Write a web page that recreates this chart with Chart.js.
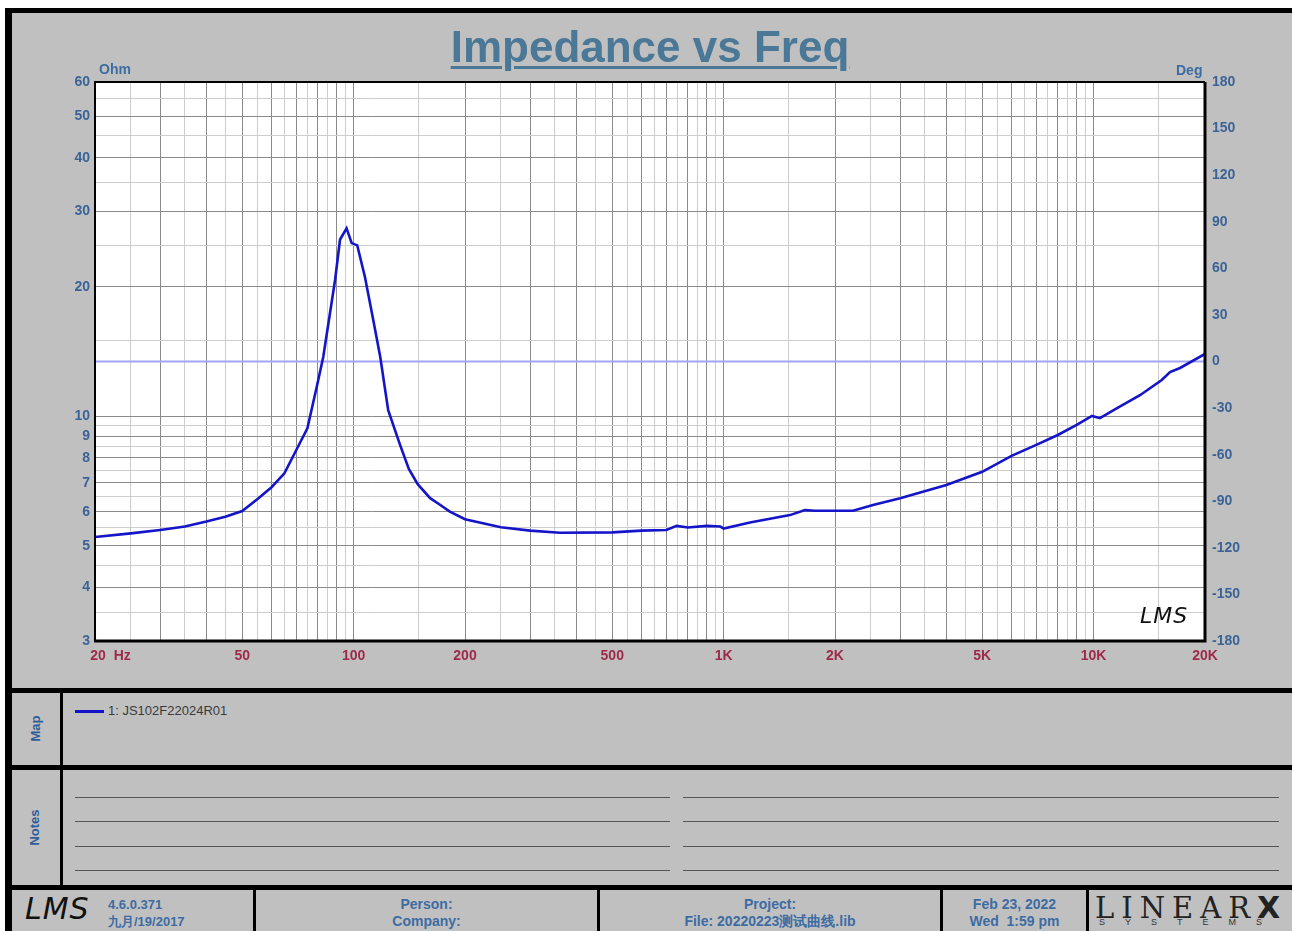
<!DOCTYPE html>
<html>
<head>
<meta charset="utf-8">
<script src="https://cdn.jsdelivr.net/npm/chart.js@4.4.0/dist/chart.umd.min.js"></script>
<style>
  body { margin: 0; width: 1292px; height: 931px; overflow: hidden; position: relative; background: #fff;
         font-family: "Liberation Sans", Arial, sans-serif; }
  #frame { position: absolute; left: 5px; top: 8px; width: 1287px; height: 923px; background: #000; }
  .panel { position: absolute; background: #c0c0c0; }
  .blue { color: #3d6ca3; font-weight: bold; }
  .abs { position: absolute; white-space: nowrap; }
  #title { position: absolute; left: 0; width: 1300px; top: 22px; text-align: center; font-size: 44px; font-weight: bold;
           color: #4a7896; text-decoration: underline; text-decoration-thickness: 3px; text-underline-offset: 4px; }
  .side { position: absolute; transform: rotate(-90deg); font-size: 13px; font-weight: bold; color: #2f5d9a; }
  .note { position: absolute; height: 1px; border-top: 1.5px solid #555; }
  .foot { position: absolute; text-align: center; font-size: 14px; font-weight: bold; color: #3d6ca3; line-height: 17px; }
  .lms { font-family: "DejaVu Sans", sans-serif; font-style: italic; font-weight: 200; color: #111; }
</style>
</head>
<body>
<div id="frame"></div>

<!-- chart panel -->
<div class="panel" style="left:12px; top:13px; width:1280px; height:675px;"></div>
<canvas id="chart" width="1280" height="675" style="position:absolute; left:12px; top:13px;"></canvas>
<div id="title">Impedance vs Freq</div>
<div class="abs blue" style="left:99px; top:61px; font-size:14px;">Ohm</div>
<div class="abs blue" style="left:1176px; top:62px; font-size:14px;">Deg</div>
<div class="abs lms" style="left:1140px; top:603px; font-size:22px; letter-spacing:1px;">LMS</div>

<!-- map panel -->
<div class="panel" style="left:12px; top:693px; width:48px; height:72px;"></div>
<div class="panel" style="left:63px; top:693px; width:1229px; height:72px;"></div>
<div class="side" style="left:22px; top:721px;">Map</div>
<div class="abs" style="left:75px; top:710px; width:29px; height:3px; background:#1212c8;"></div>
<div class="abs" id="legendText" style="left:108px; top:703px; font-size:13px; color:#3a3a3a;"></div>

<!-- notes panel -->
<div class="panel" style="left:12px; top:770px; width:48px; height:115px;"></div>
<div class="panel" style="left:63px; top:770px; width:1229px; height:115px;"></div>
<div class="side" style="left:16px; top:820px;">Notes</div>
<div class="note" style="left:75px; top:797px; width:595px;"></div>
<div class="note" style="left:683px; top:797px; width:596px;"></div>
<div class="note" style="left:75px; top:821px; width:595px;"></div>
<div class="note" style="left:683px; top:821px; width:596px;"></div>
<div class="note" style="left:75px; top:846px; width:595px;"></div>
<div class="note" style="left:683px; top:846px; width:596px;"></div>
<div class="note" style="left:75px; top:870px; width:595px;"></div>
<div class="note" style="left:683px; top:870px; width:596px;"></div>

<!-- footer -->
<div class="panel" style="left:12px; top:890px; width:241px; height:41px;"></div>
<div class="panel" style="left:256px; top:890px; width:341px; height:41px;"></div>
<div class="panel" style="left:600px; top:890px; width:340px; height:41px;"></div>
<div class="panel" style="left:943px; top:890px; width:143px; height:41px;"></div>
<div class="panel" style="left:1089px; top:890px; width:203px; height:41px;"></div>
<div class="abs lms" style="left:25px; top:891px; font-size:30px; letter-spacing:1px;">LMS</div>
<div class="abs blue" style="left:108px; top:896px; font-size:13px; line-height:17px;">4.6.0.371<br>九月/19/2017</div>
<div class="foot" style="left:256px; width:341px; top:896px;">Person:<br>Company:</div>
<div class="foot" style="left:600px; width:340px; top:896px;">Project:<br>File: 20220223测试曲线.lib</div>
<div class="foot" style="left:943px; width:143px; top:896px;">Feb 23, 2022<br>Wed&nbsp; 1:59 pm</div>
<div class="abs" style="left:1095px; top:890px; font-family:'DejaVu Serif', serif; font-size:29px; letter-spacing:7px; color:#222;">LINEAR<b style="font-family:'DejaVu Sans'; font-size:30px; letter-spacing:0;">X</b></div>
<div class="abs" style="left:1099px; top:917px; font-size:9px; letter-spacing:20px; color:#333;">SYSTEMS</div>

<script>
// impedance curve
const freqs = [20, 25, 30, 35, 40, 45, 50, 55, 60, 65, 70, 75, 80, 82.8, 89.1, 91.9, 95.7, 98.8, 102.3, 107.3,
  113, 118, 124, 133.5, 141, 149, 161, 170, 182, 200, 250, 300, 361, 500, 600, 700, 747, 800, 900, 980, 1000, 1178, 1511,
  1659, 1766, 2237, 2534, 3000, 4000, 5000, 6000, 7000, 8000, 9000, 9900, 10400, 11540, 13345, 15280, 16090, 17120, 20000];
const impedance = [5.24, 5.34, 5.44, 5.54, 5.69, 5.84, 6.02, 6.42, 6.84, 7.37, 8.35, 9.38, 12.0, 13.76, 20.77, 25.8, 27.4, 25.3, 25.0, 21.1,
  16.75, 13.76, 10.34, 8.58, 7.54, 6.95, 6.45, 6.25, 6.0, 5.76, 5.52, 5.42, 5.36, 5.37, 5.42, 5.44, 5.56, 5.51, 5.56, 5.54, 5.48, 5.66, 5.89,
  6.05, 6.03, 6.03, 6.22, 6.45, 6.92, 7.43, 8.09, 8.58, 9.05, 9.55, 10.02, 9.9, 10.44, 11.2, 12.15, 12.68, 12.96, 13.97];
// phase trace (flat at 0 deg)
const phaseFreqs = [20, 20000];
const phaseDeg = [0, 0];

const seriesName = '1: JS102F22024R01';
const xTickValues = [20, 50, 100, 200, 500, 1000, 2000, 5000, 10000, 20000];
const xTickLabels = ['        20  Hz', '50', '100', '200', '500', '1K', '2K', '5K', '10K', '20K'];
const yTickValues = [3, 4, 5, 6, 7, 8, 9, 10, 20, 30, 40, 50, 60];
const yTickLabels = ['3', '4', '5', '6', '7', '8', '9', '10', '20', '30', '40', '50', '60'];

document.getElementById('legendText').textContent = seriesName;

// grid lines at every step and half step of each decade
function gridValues(min, max) {
  const out = [];
  for (let k = 0; k < 6; k++) {
    const d = Math.pow(10, k);
    for (let m = 1; m < 10; m += 0.5) {
      const v = Math.round(m * d * 10) / 10;
      if (v >= min && v <= max && !out.includes(v)) out.push(v);
    }
  }
  return out;
}
function isMajor(v) {
  const m = v / Math.pow(10, Math.floor(Math.log10(v) + 1e-9));
  return Math.abs(m - Math.round(m)) < 1e-6;
}
const gridColor = c => (c.tick && isMajor(c.tick.value)) ? '#8a8a8a' : '#cdcdcd';

const tickFont = { family: '"Liberation Sans", Arial, sans-serif', size: 14, weight: 'bold' };

const areaPlugin = {
  id: 'area',
  beforeDraw(chart) {
    const a = chart.chartArea, c = chart.ctx;
    c.save();
    c.fillStyle = '#fff';
    c.fillRect(a.left, a.top, a.right - a.left, a.bottom - a.top);
    c.restore();
  },
  afterDraw(chart) {
    const a = chart.chartArea, c = chart.ctx;
    c.save();
    c.strokeStyle = '#000';
    c.lineWidth = 2;
    c.beginPath();
    c.moveTo(a.left, a.bottom); c.lineTo(a.left, a.top); c.lineTo(a.right, a.top);
    c.stroke();
    c.lineWidth = 3;
    c.beginPath();
    c.moveTo(a.right, a.top); c.lineTo(a.right, a.bottom); c.lineTo(a.left - 1, a.bottom);
    c.stroke();
    c.restore();
  }
};

new Chart(document.getElementById('chart'), {
  type: 'line',
  data: {
    datasets: [
      {
        label: seriesName,
        data: freqs.map((f, i) => ({ x: f, y: impedance[i] })),
        yAxisID: 'y',
        borderColor: '#1414c8',
        borderWidth: 2.6,
        pointRadius: 0,
        tension: 0
      },
      {
        label: 'Phase',
        data: phaseFreqs.map((f, i) => ({ x: f, y: phaseDeg[i] })),
        yAxisID: 'y2',
        borderColor: '#a4a4ff',
        borderWidth: 2,
        pointRadius: 0
      }
    ]
  },
  options: {
    responsive: false,
    animation: false,
    layout: { padding: { top: 69, left: 0, right: 0, bottom: 0 } },
    plugins: { legend: { display: false }, tooltip: { enabled: false } },
    scales: {
      x: {
        type: 'logarithmic', min: 20, max: 20000,
        afterBuildTicks: s => { s.ticks = gridValues(20, 20000).map(v => ({ value: v })); },
        afterFit: s => { s.height = 47; },
        ticks: {
          autoSkip: false, maxRotation: 0, padding: 7, color: '#9e2a4b', font: tickFont,
          callback: v => { const i = xTickValues.indexOf(v); return i < 0 ? '' : xTickLabels[i]; }
        },
        grid: { color: gridColor, drawTicks: false },
        border: { display: false }
      },
      y: {
        type: 'logarithmic', position: 'left', min: 3, max: 60,
        afterBuildTicks: s => { s.ticks = gridValues(3, 60).map(v => ({ value: v })); },
        afterFit: s => { s.width = 83; },
        ticks: {
          autoSkip: false, padding: 5, color: '#3a6497', font: tickFont,
          callback: v => { const i = yTickValues.indexOf(v); return i < 0 ? '' : yTickLabels[i]; }
        },
        grid: { color: gridColor, drawTicks: false },
        border: { display: false }
      },
      y2: {
        type: 'linear', position: 'right', min: -180, max: 180,
        afterFit: s => { s.width = 87; },
        ticks: { stepSize: 30, padding: 7, color: '#3a6497', font: tickFont },
        grid: { display: false, drawTicks: false },
        border: { display: false }
      }
    }
  },
  plugins: [areaPlugin]
});
</script>
</body>
</html>
